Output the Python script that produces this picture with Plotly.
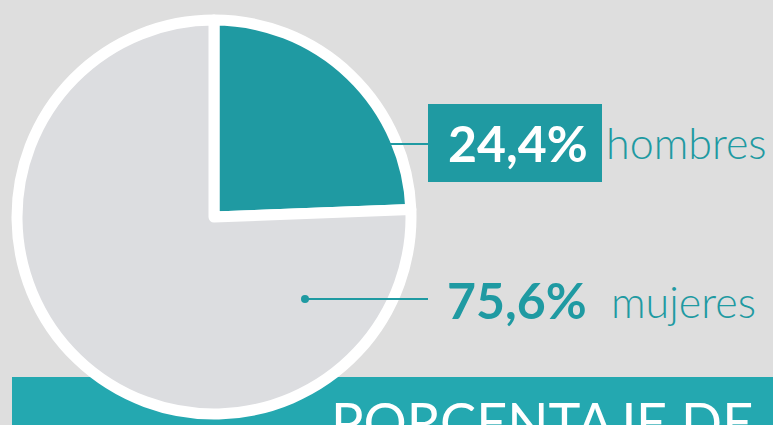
import plotly.graph_objects as go

# ---- data ----
labels = ["hombres", "mujeres"]
values = [24.4, 75.6]
pct_labels = ["24,4%", "75,6%"]
slice_colors = ["#1f9aa2", "#dcdde0"]
title_text = "PORCENTAJE DE"

W, H = 773, 425
TEAL = "#1f9aa2"
BANNER = "#24a8b0"
BG = "#dedede"
FONT = "Lato"


def px(x):
    return x / W


def py(y):
    return 1 - y / H


cx, cy, r = 214, 217, 197

fig = go.Figure()
fig.add_trace(go.Pie(
    labels=labels,
    values=values,
    sort=False,
    direction="clockwise",
    rotation=0,
    textinfo="none",
    hoverinfo="skip",
    showlegend=False,
    marker=dict(colors=slice_colors, line=dict(color="white", width=11)),
    domain=dict(x=[px(cx - r), px(cx + r)], y=[py(cy + r), py(cy - r)]),
))

shapes = [
    # bottom banner
    dict(type="rect", xref="paper", yref="paper", x0=px(12), x1=px(780),
         y0=py(377), y1=py(440), fillcolor=BANNER, line=dict(width=0), layer="below"),
    # hombres box
    dict(type="rect", xref="paper", yref="paper", x0=px(428), x1=px(602),
         y0=py(182), y1=py(104), fillcolor=TEAL, line=dict(width=0), layer="above"),
    # hombres leader
    dict(type="line", xref="paper", yref="paper", x0=px(388), x1=px(428),
         y0=py(144), y1=py(144), line=dict(color=TEAL, width=2), layer="above"),
    # mujeres leader
    dict(type="line", xref="paper", yref="paper", x0=px(305), x1=px(428),
         y0=py(299), y1=py(299), line=dict(color=TEAL, width=2), layer="above"),
    dict(type="circle", xref="paper", yref="paper", x0=px(301), x1=px(309),
         y0=py(303), y1=py(295), fillcolor=TEAL, line=dict(width=0), layer="above"),
]

annotations = [
    dict(text="<b>%s</b>" % pct_labels[0], x=px(518), y=py(143), xref="paper", yref="paper",
         xanchor="center", yanchor="middle", showarrow=False,
         font=dict(family=FONT, size=50, color="white")),
    dict(text=labels[0], x=px(604), y=py(142), xref="paper", yref="paper",
         xanchor="left", yanchor="middle", showarrow=False,
         font=dict(family=FONT, size=43, color=TEAL, weight=300)),
    dict(text="<b>%s</b>" % pct_labels[1], x=px(445), y=py(300), xref="paper", yref="paper",
         xanchor="left", yanchor="middle", showarrow=False,
         font=dict(family=FONT, size=50, color=TEAL)),
    dict(text=labels[1], x=px(609), y=py(301), xref="paper", yref="paper",
         xanchor="left", yanchor="middle", showarrow=False,
         font=dict(family=FONT, size=43, color=TEAL, weight=300)),
    dict(text=title_text, x=px(329), y=py(387), xref="paper", yref="paper",
         xanchor="left", yanchor="top", showarrow=False,
         font=dict(family=FONT, size=54, color="white")),
]

fig.update_layout(
    width=W, height=H,
    margin=dict(l=0, r=0, t=0, b=0),
    paper_bgcolor=BG, plot_bgcolor=BG,
    shapes=shapes, annotations=annotations,
)

fig.write_html("out.html", config={"displayModeBar": False},
               post_script="document.body.style.margin='0';document.body.style.overflow='hidden';")
